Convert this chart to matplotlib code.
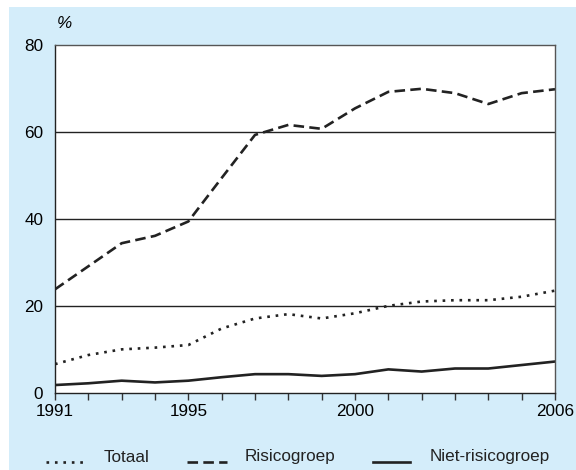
import numpy as np
import matplotlib.pyplot as plt
from matplotlib.patches import Rectangle
from matplotlib.lines import Line2D

plt.rcParams['font.family'] = ['Liberation Sans', 'DejaVu Sans']

years = np.arange(1991, 2007)
totaal = [6.7, 8.8, 10.1, 10.5, 11.1, 14.9, 17.2, 18.2, 17.2, 18.4, 20.1, 21.1, 21.4, 21.4, 22.2, 23.6]
risico = [23.9, 29.2, 34.5, 36.2, 39.5, 49.5, 59.4, 61.7, 60.8, 65.5, 69.3, 70.0, 69.0, 66.5, 69.0, 69.9]
niet_risico = [1.9, 2.3, 2.9, 2.5, 2.9, 3.7, 4.4, 4.4, 4.0, 4.4, 5.5, 5.0, 5.7, 5.7, 6.5, 7.3]
xlabels = [1991, 1995, 2000, 2006]

W, H = 576, 470
bg = '#d4edfa'
fs = 12.3
ink = '#222222'
styles = {'dot': (0, (1, 2.2)), 'dash': (0, (4, 2)), 'solid': '-'}

fig = plt.figure(figsize=(W / 100, H / 100), dpi=100, facecolor=bg)
# white margins at the top and left of the panel
fig.patches.append(Rectangle((0, 1 - 7 / H), 1, 7 / H, transform=fig.transFigure,
                             facecolor='white', edgecolor='none', zorder=-1))
fig.patches.append(Rectangle((0, 0), 9 / W, 1, transform=fig.transFigure,
                             facecolor='white', edgecolor='none', zorder=-1))

ax = fig.add_axes([55 / W, 1 - 393.3 / H, 500 / W, 348 / H])
ax.set_facecolor('white')

ax.plot(years, totaal, color=ink, lw=1.9, linestyle=styles['dot'])
ax.plot(years, risico, color=ink, lw=1.9, linestyle=styles['dash'])
ax.plot(years, niet_risico, color=ink, lw=1.9, linestyle=styles['solid'])

ax.set_xlim(1991, 2006)
ax.set_ylim(0, 80)
ax.set_yticks([0, 20, 40, 60, 80])
for yv in [20, 40, 60]:
    ax.axhline(yv, color=ink, lw=1, zorder=0)

ax.set_xticks(years)
ax.set_xticklabels([str(y) if y in xlabels else '' for y in years])
ax.tick_params(axis='x', direction='out', length=5, width=1, color='#333333',
               labelsize=fs, pad=2.5)
ax.tick_params(axis='y', length=0, labelsize=fs, pad=8.5)

for side in ['left', 'bottom']:
    ax.spines[side].set_color(ink)
    ax.spines[side].set_linewidth(1)
for side in ['top', 'right']:
    ax.spines[side].set_color('#555555')
    ax.spines[side].set_linewidth(1)

fig.text(64 / W, 1 - 23 / H, '%', fontsize=fs, va='center', ha='center', style='italic')

# legend row along the bottom
legend_items = [('Totaal', 'dot', 46, 87, 104),
                ('Risicogroep', 'dash', 187, 227, 245),
                ('Niet-risicogroep', 'solid', 373, 410, 430)]
for label, st, x0, x1, xt in legend_items:
    fig.add_artist(Line2D([x0 / W, x1 / W], [1 - 462 / H, 1 - 462 / H], transform=fig.transFigure,
                          color=ink, lw=1.9, linestyle=styles[st]))
    fig.text(xt / W, 1 - 457 / H, label, fontsize=fs, va='center', ha='left', color=ink)

fig.savefig('out.png', dpi=100, facecolor=bg)
